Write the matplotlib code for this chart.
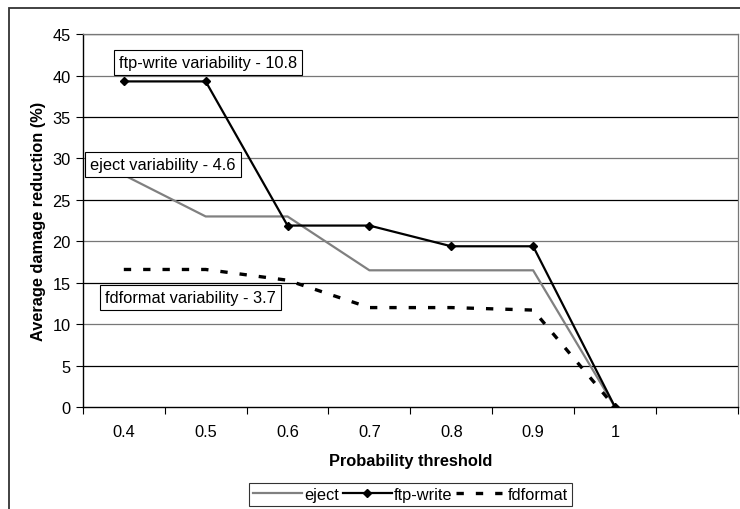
import numpy as np
import matplotlib.pyplot as plt
from matplotlib.patches import Rectangle

plt.rcParams['font.family'] = ['Liberation Sans', 'DejaVu Sans']

# data
thresholds = ['0.4', '0.5', '0.6', '0.7', '0.8', '0.9', '1', '']
eject = [28.0, 23.0, 23.0, 16.5, 16.5, 16.5, 0.0]
ftp_write = [39.3, 39.3, 21.9, 21.9, 19.4, 19.4, 0.0]
fdformat = [16.6, 16.6, 15.3, 12.0, 12.0, 11.7, 0.0]

notes = ['ftp-write variability - 10.8', 'eject variability - 4.6', 'fdformat variability - 3.7']
note_pos = [(-0.06, 41.6), (-0.41, 29.3), (-0.23, 13.2)]

FS = 11.8

fig = plt.figure(figsize=(7.4, 5.1), dpi=100)
ax = fig.add_axes([0.112, 0.2, 0.885, 0.731])

# outer chart frame
fig.patches.append(Rectangle((9/740, -0.1), 1.2, 1 - 9/510 + 0.1, transform=fig.transFigure,
							 fill=False, ec='#333333', lw=1.3))

x = np.arange(len(eject))
ax.set_xlim(-0.5, len(thresholds) - 0.5)
ax.set_ylim(0, 45)
ax.set_yticks(np.arange(0, 46, 5))
for i, y in enumerate(np.arange(5, 46, 5)):
	ax.axhline(y, color='#777777' if i % 2 else 'black', lw=0.9, zorder=0)

ax.plot(x, eject, color='#808080', lw=1.6, label='eject', zorder=2)
ax.plot(x, ftp_write, color='black', lw=1.6, marker='D', ms=4.5, label='ftp-write', zorder=3)
ax.plot(x, fdformat, color='black', lw=2.4, dashes=(2.2, 3.6), label='fdformat', zorder=4)

for txt, (tx, ty) in zip(notes, note_pos):
	ax.text(tx, ty, txt, fontsize=FS, ha='left', va='center', zorder=5,
			bbox=dict(boxstyle='square,pad=0.3', fc='white', ec='black', lw=0.8))

# ticks between categories, labels at centres
ax.set_xticks(np.arange(-0.5, len(thresholds), 1))
ax.set_xticklabels([])
ax.set_xticks(np.arange(len(thresholds)), minor=True)
ax.set_xticklabels(thresholds, minor=True)
ax.tick_params(axis='x', which='major', length=5, direction='out', color='black')
ax.tick_params(axis='x', which='minor', length=0, pad=12, labelsize=FS)
ax.tick_params(axis='y', length=5, direction='out', labelsize=FS, pad=4)

for side in ['top', 'right']:
	ax.spines[side].set_color('#777777')
	ax.spines[side].set_linewidth(0.9)
for side in ['left', 'bottom']:
	ax.spines[side].set_color('black')
	ax.spines[side].set_linewidth(1.0)

ax.set_xlabel('Probability threshold', fontweight='bold', fontsize=FS, labelpad=10)
ax.set_ylabel('Average damage reduction (%)', fontweight='bold', fontsize=FS, labelpad=4)

leg = ax.legend(loc='upper center', bbox_to_anchor=(0.5, -0.203), ncol=3, frameon=True,
				fancybox=False, edgecolor='black', fontsize=FS, handlelength=3.0,
				columnspacing=0.2, handletextpad=0.15, borderpad=0.25, borderaxespad=0)
leg.get_frame().set_linewidth(0.8)

fig.savefig('out.png', dpi=100)
